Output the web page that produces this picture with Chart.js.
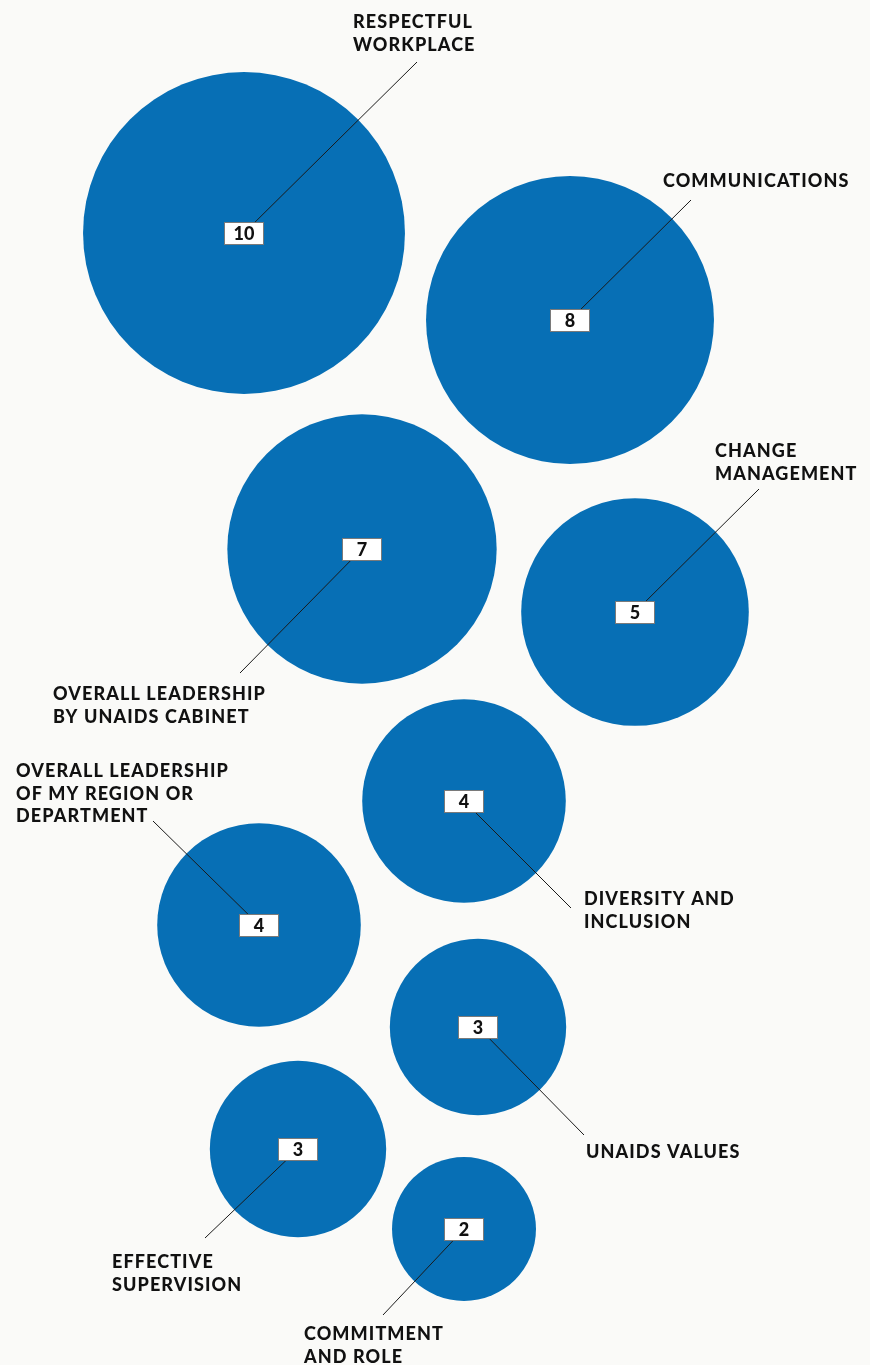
<!DOCTYPE html>
<html>
<head>
<meta charset="utf-8">
<script src="https://cdn.jsdelivr.net/npm/chart.js@4/dist/chart.umd.min.js"></script>
<style>
  html, body { margin: 0; padding: 0; background: #fafaf8; }
  #bubbles { display: block; }
</style>
</head>
<body>
<canvas id="bubbles" width="870" height="1365"></canvas>
<script>
// topics and how many mentions each got
var categories = [
    ['RESPECTFUL', 'WORKPLACE'],
    ['COMMUNICATIONS'],
    ['OVERALL LEADERSHIP', 'BY UNAIDS CABINET'],
    ['CHANGE', 'MANAGEMENT'],
    ['DIVERSITY AND', 'INCLUSION'],
    ['OVERALL LEADERSHIP', 'OF MY REGION OR', 'DEPARTMENT'],
    ['UNAIDS VALUES'],
    ['EFFECTIVE', 'SUPERVISION'],
    ['COMMITMENT', 'AND ROLE']
];
var values = [10, 8, 7, 5, 4, 4, 3, 3, 2];

// packing of the bubbles on the page (layout units = px)
var layoutX = [244, 570, 362, 635, 464, 259, 478, 298, 464];
var layoutY = [233, 320, 549, 612, 801, 925, 1027, 1149, 1229];

// where each callout line ends and where its text starts (left, first baseline)
var calloutEnd = [[417, 62], [691, 200], [240, 673], [759, 489], [571, 908], [153, 821], [584, 1135], [205, 1238], [383, 1315]];
var calloutText = [[353, 28], [663, 187], [53, 700], [715, 457], [584, 905], [16, 777], [586, 1158], [112, 1268], [304, 1340]];

var BLUE = '#076fb5';
var SIZE = 50.9; // radius of a bubble with value 1, area grows with value

var callouts = {
    id: 'callouts',
    afterDatasetsDraw: function(chart) {
        var c = chart.ctx;
        var xs = chart.scales.x;
        var ys = chart.scales.y;
        var pts = chart.getDatasetMeta(0).data;
        c.save();
        for (var i = 0; i < pts.length; i++) {
            var px = pts[i].x, py = pts[i].y;
            // leader line
            c.beginPath();
            c.strokeStyle = '#1a1a1a';
            c.lineWidth = 1;
            c.moveTo(px, py);
            c.lineTo(xs.getPixelForValue(calloutEnd[i][0]), ys.getPixelForValue(calloutEnd[i][1]));
            c.stroke();

            // value box
            var bw = 40, bh = 23;
            c.fillStyle = '#ffffff';
            c.fillRect(Math.round(px - bw / 2), Math.round(py - bh / 2), bw, bh);
            c.strokeStyle = '#7a7a7a';
            c.strokeRect(Math.round(px - bw / 2) + 0.5, Math.round(py - bh / 2) + 0.5, bw - 1, bh - 1);
            c.fillStyle = '#111111';
            c.font = '900 18px Lato';
            c.letterSpacing = '0px';
            c.textAlign = 'center';
            c.textBaseline = 'middle';
            c.fillText(String(values[i]), px, py + 1);

            // category text
            c.font = '900 18px Lato';
            c.letterSpacing = '1.1px';
            c.textAlign = 'left';
            c.textBaseline = 'alphabetic';
            var tx = xs.getPixelForValue(calloutText[i][0]);
            var ty = ys.getPixelForValue(calloutText[i][1]);
            for (var k = 0; k < categories[i].length; k++) {
                c.fillText(categories[i][k], tx, ty + k * 22.5);
            }
        }
        c.restore();
    }
};

var points = values.map(function(v, i) {
    return { x: layoutX[i], y: layoutY[i] };
});

var graph = new Chart(document.getElementById('bubbles').getContext('2d'), {
    type: 'bubble',
    data: {
        labels: categories.map(function(l) { return l.join(' '); }),
        datasets: [{
            data: points,
            backgroundColor: BLUE,
            borderWidth: 0,
            hoverRadius: 0,
            radius: function(ctx) {
                return SIZE * Math.sqrt(values[ctx.dataIndex]);
            }
        }]
    },
    options: {
        responsive: false,
        animation: false,
        events: [],
        layout: { padding: 0, autoPadding: false },
        clip: false,
        plugins: {
            legend: { display: false },
            tooltip: { enabled: false }
        },
        scales: {
            x: { type: 'linear', min: 0, max: 870, display: false },
            y: { type: 'linear', min: 0, max: 1365, reverse: true, display: false }
        }
    },
    plugins: [callouts]
});
</script>
</body>
</html>
